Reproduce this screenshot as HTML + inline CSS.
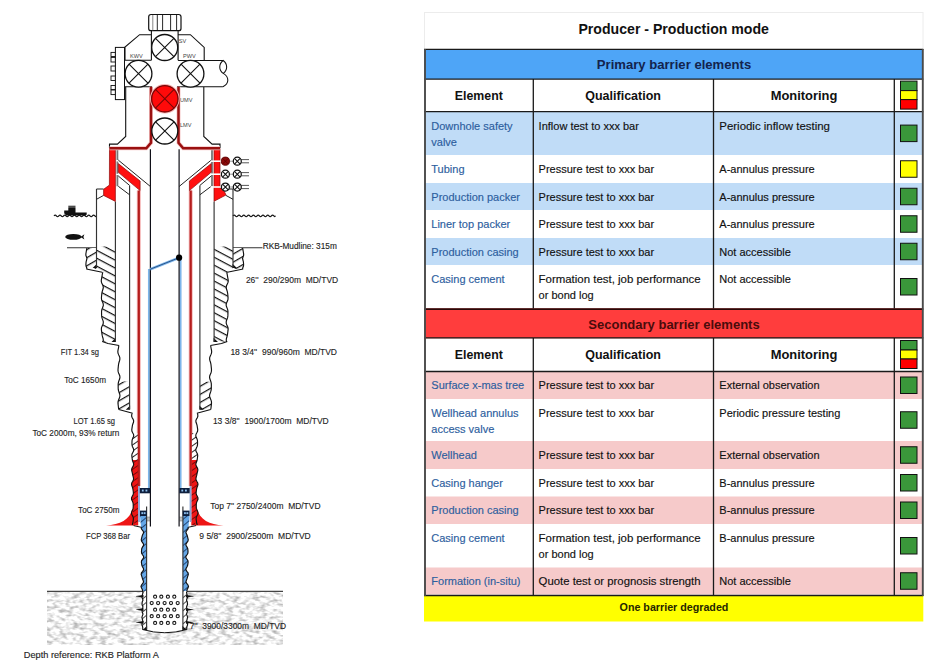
<!DOCTYPE html>
<html><head><meta charset="utf-8"><style>
html,body{margin:0;padding:0;background:#fff;width:944px;height:662px;overflow:hidden}
svg{position:absolute;left:0;top:0;font-family:"Liberation Sans", sans-serif}
</style></head><body>
<svg width="944" height="662" viewBox="0 0 944 662">
<rect x="424.5" y="12.5" width="498.5" height="37" fill="#fff" stroke="#ececec" stroke-width="1"/>
<text x="673.7" y="34" font-size="14" font-weight="700" fill="#111" text-anchor="middle" textLength="190.5" lengthAdjust="spacingAndGlyphs">Producer - Production mode</text>
<rect x="424.5" y="49.3" width="498.29999999999995" height="29.8" fill="#4ea5f7"/>
<text x="674" y="69" font-size="13" font-weight="700" fill="#13234d" text-anchor="middle" textLength="154.4" lengthAdjust="spacingAndGlyphs">Primary barrier elements</text>
<rect x="424.5" y="79.1" width="498.29999999999995" height="32.60000000000001" fill="#fff"/>
<text x="478.8" y="99.89999999999999" font-size="12.6" font-weight="700" fill="#111" text-anchor="middle" textLength="48" lengthAdjust="spacingAndGlyphs">Element</text>
<text x="623.1" y="99.89999999999999" font-size="12.6" font-weight="700" fill="#111" text-anchor="middle" textLength="75.7" lengthAdjust="spacingAndGlyphs">Qualification</text>
<text x="804.0" y="99.89999999999999" font-size="12.6" font-weight="700" fill="#111" text-anchor="middle" textLength="66.7" lengthAdjust="spacingAndGlyphs">Monitoring</text>
<rect x="900.5" y="81.1" width="16.5" height="9.5" fill="#3a973a" stroke="#111" stroke-width="1"/>
<rect x="900.5" y="90.6" width="16.5" height="9" fill="#ffff00" stroke="#111" stroke-width="1"/>
<rect x="900.5" y="99.6" width="16.5" height="9.5" fill="#ff0000" stroke="#111" stroke-width="1"/>
<rect x="424.5" y="111.7" width="498.29999999999995" height="43.3" fill="#c0dcf7"/>
<rect x="424.5" y="155.0" width="498.29999999999995" height="28" fill="#ffffff"/>
<rect x="424.5" y="183.0" width="498.29999999999995" height="27" fill="#c0dcf7"/>
<rect x="424.5" y="210.0" width="498.29999999999995" height="28" fill="#ffffff"/>
<rect x="424.5" y="238.0" width="498.29999999999995" height="27" fill="#c0dcf7"/>
<rect x="424.5" y="265.0" width="498.29999999999995" height="43.5" fill="#ffffff"/>
<text x="431.3" y="130.1" font-size="11" font-weight="400" fill="#2d5e9e" text-anchor="start" stroke="#2d5e9e" stroke-width="0.15">Downhole safety</text>
<text x="431.3" y="146.4" font-size="11" font-weight="400" fill="#2d5e9e" text-anchor="start" stroke="#2d5e9e" stroke-width="0.15">valve</text>
<text x="538.6" y="130.1" font-size="11" font-weight="400" fill="#111" text-anchor="start" stroke="#111" stroke-width="0.15">Inflow test to xxx bar</text>
<text x="719.3" y="130.1" font-size="11" font-weight="400" fill="#111" text-anchor="start" stroke="#111" stroke-width="0.15" textLength="110.6" lengthAdjust="spacingAndGlyphs">Periodic inflow testing</text>
<rect x="900.5" y="125.1" width="16.5" height="16.5" fill="#3a973a" stroke="#111" stroke-width="1"/>
<text x="431.3" y="172.6" font-size="11" font-weight="400" fill="#2d5e9e" text-anchor="start" stroke="#2d5e9e" stroke-width="0.15">Tubing</text>
<text x="538.6" y="172.6" font-size="11" font-weight="400" fill="#111" text-anchor="start" stroke="#111" stroke-width="0.15">Pressure test to xxx bar</text>
<text x="719.3" y="172.6" font-size="11" font-weight="400" fill="#111" text-anchor="start" stroke="#111" stroke-width="0.15">A-annulus pressure</text>
<rect x="900.5" y="160.75" width="16.5" height="16.5" fill="#ffff00" stroke="#111" stroke-width="1"/>
<text x="431.3" y="200.6" font-size="11" font-weight="400" fill="#2d5e9e" text-anchor="start" stroke="#2d5e9e" stroke-width="0.15">Production packer</text>
<text x="538.6" y="200.6" font-size="11" font-weight="400" fill="#111" text-anchor="start" stroke="#111" stroke-width="0.15">Pressure test to xxx bar</text>
<text x="719.3" y="200.6" font-size="11" font-weight="400" fill="#111" text-anchor="start" stroke="#111" stroke-width="0.15">A-annulus pressure</text>
<rect x="900.5" y="188.25" width="16.5" height="16.5" fill="#3a973a" stroke="#111" stroke-width="1"/>
<text x="431.3" y="227.6" font-size="11" font-weight="400" fill="#2d5e9e" text-anchor="start" stroke="#2d5e9e" stroke-width="0.15">Liner top packer</text>
<text x="538.6" y="227.6" font-size="11" font-weight="400" fill="#111" text-anchor="start" stroke="#111" stroke-width="0.15">Pressure test to xxx bar</text>
<text x="719.3" y="227.6" font-size="11" font-weight="400" fill="#111" text-anchor="start" stroke="#111" stroke-width="0.15">A-annulus pressure</text>
<rect x="900.5" y="215.75" width="16.5" height="16.5" fill="#3a973a" stroke="#111" stroke-width="1"/>
<text x="431.3" y="255.6" font-size="11" font-weight="400" fill="#2d5e9e" text-anchor="start" stroke="#2d5e9e" stroke-width="0.15">Production casing</text>
<text x="538.6" y="255.6" font-size="11" font-weight="400" fill="#111" text-anchor="start" stroke="#111" stroke-width="0.15">Pressure test to xxx bar</text>
<text x="719.3" y="255.6" font-size="11" font-weight="400" fill="#111" text-anchor="start" stroke="#111" stroke-width="0.15">Not accessible</text>
<rect x="900.5" y="243.25" width="16.5" height="16.5" fill="#3a973a" stroke="#111" stroke-width="1"/>
<text x="431.3" y="282.6" font-size="11" font-weight="400" fill="#2d5e9e" text-anchor="start" stroke="#2d5e9e" stroke-width="0.15">Casing cement</text>
<text x="538.6" y="282.6" font-size="11" font-weight="400" fill="#111" text-anchor="start" stroke="#111" stroke-width="0.15" textLength="162" lengthAdjust="spacingAndGlyphs">Formation test, job performance</text>
<text x="538.6" y="298.9" font-size="11" font-weight="400" fill="#111" text-anchor="start" stroke="#111" stroke-width="0.15">or bond log</text>
<text x="719.3" y="282.6" font-size="11" font-weight="400" fill="#111" text-anchor="start" stroke="#111" stroke-width="0.15">Not accessible</text>
<rect x="900.5" y="278.5" width="16.5" height="16.5" fill="#3a973a" stroke="#111" stroke-width="1"/>
<rect x="424.5" y="308.5" width="498.29999999999995" height="30.0" fill="#ff3d3d"/>
<text x="674" y="328.5" font-size="13" font-weight="700" fill="#4a0c0c" text-anchor="middle" textLength="171.3" lengthAdjust="spacingAndGlyphs">Secondary barrier elements</text>
<rect x="424.5" y="338.5" width="498.29999999999995" height="33.0" fill="#fff"/>
<text x="478.8" y="359.3" font-size="12.6" font-weight="700" fill="#111" text-anchor="middle" textLength="48" lengthAdjust="spacingAndGlyphs">Element</text>
<text x="623.1" y="359.3" font-size="12.6" font-weight="700" fill="#111" text-anchor="middle" textLength="75.7" lengthAdjust="spacingAndGlyphs">Qualification</text>
<text x="804.0" y="359.3" font-size="12.6" font-weight="700" fill="#111" text-anchor="middle" textLength="66.7" lengthAdjust="spacingAndGlyphs">Monitoring</text>
<rect x="900.5" y="340.5" width="16.5" height="9.5" fill="#3a973a" stroke="#111" stroke-width="1"/>
<rect x="900.5" y="350.0" width="16.5" height="9" fill="#ffff00" stroke="#111" stroke-width="1"/>
<rect x="900.5" y="359.0" width="16.5" height="9.5" fill="#ff0000" stroke="#111" stroke-width="1"/>
<rect x="424.5" y="371.5" width="498.29999999999995" height="27.5" fill="#f6caca"/>
<rect x="424.5" y="399.0" width="498.29999999999995" height="42" fill="#ffffff"/>
<rect x="424.5" y="441.0" width="498.29999999999995" height="28" fill="#f6caca"/>
<rect x="424.5" y="469.0" width="498.29999999999995" height="27.5" fill="#ffffff"/>
<rect x="424.5" y="496.5" width="498.29999999999995" height="27.5" fill="#f6caca"/>
<rect x="424.5" y="524.0" width="498.29999999999995" height="43.5" fill="#ffffff"/>
<rect x="424.5" y="567.5" width="498.29999999999995" height="27" fill="#f6caca"/>
<text x="431.3" y="389.1" font-size="11" font-weight="400" fill="#2d5e9e" text-anchor="start" stroke="#2d5e9e" stroke-width="0.15">Surface x-mas tree</text>
<text x="538.6" y="389.1" font-size="11" font-weight="400" fill="#111" text-anchor="start" stroke="#111" stroke-width="0.15">Pressure test to xxx bar</text>
<text x="719.3" y="389.1" font-size="11" font-weight="400" fill="#111" text-anchor="start" stroke="#111" stroke-width="0.15">External observation</text>
<rect x="900.5" y="377.0" width="16.5" height="16.5" fill="#3a973a" stroke="#111" stroke-width="1"/>
<text x="431.3" y="416.6" font-size="11" font-weight="400" fill="#2d5e9e" text-anchor="start" stroke="#2d5e9e" stroke-width="0.15">Wellhead annulus</text>
<text x="431.3" y="432.9" font-size="11" font-weight="400" fill="#2d5e9e" text-anchor="start" stroke="#2d5e9e" stroke-width="0.15">access valve</text>
<text x="538.6" y="416.6" font-size="11" font-weight="400" fill="#111" text-anchor="start" stroke="#111" stroke-width="0.15">Pressure test to xxx bar</text>
<text x="719.3" y="416.6" font-size="11" font-weight="400" fill="#111" text-anchor="start" stroke="#111" stroke-width="0.15">Periodic pressure testing</text>
<rect x="900.5" y="411.75" width="16.5" height="16.5" fill="#3a973a" stroke="#111" stroke-width="1"/>
<text x="431.3" y="458.6" font-size="11" font-weight="400" fill="#2d5e9e" text-anchor="start" stroke="#2d5e9e" stroke-width="0.15">Wellhead</text>
<text x="538.6" y="458.6" font-size="11" font-weight="400" fill="#111" text-anchor="start" stroke="#111" stroke-width="0.15">Pressure test to xxx bar</text>
<text x="719.3" y="458.6" font-size="11" font-weight="400" fill="#111" text-anchor="start" stroke="#111" stroke-width="0.15">External observation</text>
<rect x="900.5" y="446.75" width="16.5" height="16.5" fill="#3a973a" stroke="#111" stroke-width="1"/>
<text x="431.3" y="486.6" font-size="11" font-weight="400" fill="#2d5e9e" text-anchor="start" stroke="#2d5e9e" stroke-width="0.15">Casing hanger</text>
<text x="538.6" y="486.6" font-size="11" font-weight="400" fill="#111" text-anchor="start" stroke="#111" stroke-width="0.15">Pressure test to xxx bar</text>
<text x="719.3" y="486.6" font-size="11" font-weight="400" fill="#111" text-anchor="start" stroke="#111" stroke-width="0.15">B-annulus pressure</text>
<rect x="900.5" y="474.5" width="16.5" height="16.5" fill="#3a973a" stroke="#111" stroke-width="1"/>
<text x="431.3" y="514.1" font-size="11" font-weight="400" fill="#2d5e9e" text-anchor="start" stroke="#2d5e9e" stroke-width="0.15">Production casing</text>
<text x="538.6" y="514.1" font-size="11" font-weight="400" fill="#111" text-anchor="start" stroke="#111" stroke-width="0.15">Pressure test to xxx bar</text>
<text x="719.3" y="514.1" font-size="11" font-weight="400" fill="#111" text-anchor="start" stroke="#111" stroke-width="0.15">B-annulus pressure</text>
<rect x="900.5" y="502.0" width="16.5" height="16.5" fill="#3a973a" stroke="#111" stroke-width="1"/>
<text x="431.3" y="541.6" font-size="11" font-weight="400" fill="#2d5e9e" text-anchor="start" stroke="#2d5e9e" stroke-width="0.15">Casing cement</text>
<text x="538.6" y="541.6" font-size="11" font-weight="400" fill="#111" text-anchor="start" stroke="#111" stroke-width="0.15" textLength="162" lengthAdjust="spacingAndGlyphs">Formation test, job performance</text>
<text x="538.6" y="557.9" font-size="11" font-weight="400" fill="#111" text-anchor="start" stroke="#111" stroke-width="0.15">or bond log</text>
<text x="719.3" y="541.6" font-size="11" font-weight="400" fill="#111" text-anchor="start" stroke="#111" stroke-width="0.15">B-annulus pressure</text>
<rect x="900.5" y="537.5" width="16.5" height="16.5" fill="#3a973a" stroke="#111" stroke-width="1"/>
<text x="431.3" y="585.1" font-size="11" font-weight="400" fill="#2d5e9e" text-anchor="start" stroke="#2d5e9e" stroke-width="0.15">Formation (in-situ)</text>
<text x="538.6" y="585.1" font-size="11" font-weight="400" fill="#111" text-anchor="start" stroke="#111" stroke-width="0.15" textLength="162" lengthAdjust="spacingAndGlyphs">Quote test or prognosis strength</text>
<text x="719.3" y="585.1" font-size="11" font-weight="400" fill="#111" text-anchor="start" stroke="#111" stroke-width="0.15">Not accessible</text>
<rect x="900.5" y="572.75" width="16.5" height="16.5" fill="#3a973a" stroke="#111" stroke-width="1"/>
<rect x="424.0" y="595.0" width="499.29999999999995" height="26.5" fill="#ffff00"/>
<text x="674" y="610.5" font-size="10.7" font-weight="700" fill="#262600" text-anchor="middle" textLength="108.8" lengthAdjust="spacingAndGlyphs">One barrier degraded</text>
<path d="M424.0,49.3H923.3M424.0,79.1H923.3M424.0,111.7H923.3M424.0,337.8H923.3M424.0,371.5H923.3M424.0,595.5H923.3M533.3,79.1V308.5M533.3,338V595.5M713.5,79.1V308.5M713.5,338V595.5M894.3,79.1V308.5M894.3,338V595.5" stroke="#1a1a1a" stroke-width="1.3" fill="none"/>
<path d="M424.0,309.2H923.3" stroke="#2a0808" stroke-width="1.8" fill="none"/>
<path d="M425,49V596M922.8,49V596" stroke="#4a4a4a" stroke-width="1.9" fill="none"/>
<defs>
<pattern id="hA" patternUnits="userSpaceOnUse" width="7" height="7" patternTransform="rotate(28)"><rect width="7" height="7" fill="#fff"/><line x1="0" y1="0.6" x2="7" y2="0.6" stroke="#111" stroke-width="1.25"/></pattern>
<pattern id="hB" patternUnits="userSpaceOnUse" width="7" height="7" patternTransform="rotate(-30)"><rect width="7" height="7" fill="#fff"/><line x1="0" y1="0.6" x2="7" y2="0.6" stroke="#111" stroke-width="1.25"/></pattern>
<pattern id="hR" patternUnits="userSpaceOnUse" width="5" height="5" patternTransform="rotate(-35)"><rect width="5" height="5" fill="#ee1515"/><line x1="0" y1="0.5" x2="5" y2="0.5" stroke="#7a0a0a" stroke-width="1"/></pattern>
<pattern id="hRw" patternUnits="userSpaceOnUse" width="5" height="5" patternTransform="rotate(-35)"><rect width="5" height="5" fill="#fff"/><line x1="0" y1="0.5" x2="5" y2="0.5" stroke="#111" stroke-width="0.9"/></pattern>
<pattern id="hBl" patternUnits="userSpaceOnUse" width="5" height="5" patternTransform="rotate(-40)"><rect width="5" height="5" fill="#64a6e6"/><line x1="0" y1="0.5" x2="5" y2="0.5" stroke="#1b3a66" stroke-width="0.9"/></pattern>
<pattern id="hW" patternUnits="userSpaceOnUse" width="5" height="5" patternTransform="rotate(-40)"><rect width="5" height="5" fill="#fff"/><line x1="0" y1="0.5" x2="5" y2="0.5" stroke="#222" stroke-width="0.8"/></pattern>
<filter id="mottle" x="0" y="0" width="100%" height="100%" color-interpolation-filters="sRGB">
<feTurbulence type="fractalNoise" baseFrequency="0.15 0.3" numOctaves="2" seed="7" result="n"/>
<feColorMatrix type="matrix" in="n" values="-0.75 0 0 0 1.31  -0.75 0 0 0 1.31  -0.75 0 0 0 1.31  0 0 0 0 1"/>
</filter>
</defs>
<rect x="47" y="591" width="236" height="54" filter="url(#mottle)"/>
<path d="M47,591.3H283" stroke="#444" stroke-width="1.2"/>
<path d="M54,215.8Q55.2,214.20000000000002 56.4,215.8Q57.6,217.4 58.8,215.8Q60.0,214.20000000000002 61.2,215.8Q62.4,217.4 63.6,215.8Q64.8,214.20000000000002 66.0,215.8Q67.2,217.4 68.4,215.8Q69.6,214.20000000000002 70.8,215.8Q72.0,217.4 73.2,215.8Q74.4,214.20000000000002 75.6,215.8Q76.8,217.4 78.0,215.8Q79.2,214.20000000000002 80.4,215.8Q81.6,217.4 82.8,215.8Q84.0,214.20000000000002 85.2,215.8Q86.4,217.4 87.6,215.8Q88.8,214.20000000000002 90.0,215.8Q91.2,217.4 92.4,215.8Q93.6,214.20000000000002 94.8,215.8Q95.65,217.4 96.5,215.8M233,215.8Q234.2,214.20000000000002 235.4,215.8Q236.6,217.4 237.8,215.8Q239.0,214.20000000000002 240.2,215.8Q241.4,217.4 242.6,215.8Q243.8,214.20000000000002 245.0,215.8Q246.2,217.4 247.4,215.8Q248.6,214.20000000000002 249.8,215.8Q251.0,217.4 252.2,215.8Q253.4,214.20000000000002 254.6,215.8Q255.8,217.4 257.0,215.8Q258.2,214.20000000000002 259.4,215.8Q260.6,217.4 261.8,215.8Q263.0,214.20000000000002 264.2,215.8Q265.4,217.4 266.6,215.8Q267.8,214.20000000000002 269.0,215.8Q270.2,217.4 271.4,215.8Q272.6,214.20000000000002 273.8,215.8Q274.65,217.4 275.5,215.8" fill="none" stroke="#1a1a1a" stroke-width="1.25"/>
<path d="M64.2,210.4 H68.3 V207.2 H75.5 V212.6 H86.7 V214.6 L85.8,215.4 H66.2 L64.2,213.2 Z M68.3,205.8 H75.5 V206.8 H68.3 Z" fill="#111"/>
<ellipse cx="73.4" cy="236.9" rx="8.2" ry="2.9" fill="#111"/><path d="M80.5,236.9 L84.4,234.2 L83.4,236.9 L84.4,239.6 Z" fill="#111"/>
<path d="M67,247.7H96.5M233,247.7H262.5" stroke="#333" stroke-width="1.1"/>
<path d="M138.8,190.6V486M190.7,190.6V486" stroke="#f5b5b5" stroke-width="4" fill="none"/>
<path d="M86.86,248.0L86.68,249.5L86.33,251.0L86.11,252.5L85.85,254.0L85.88,255.5L86.5,257.0L86.93,258.5L86.61,260.0L86.16,261.5L86.0,263.0L85.9,264.5L86.03,266.0L86.61,267.5L86.95,269.0L96.5,269L96.5,248Z" fill="url(#hB)" />
<path d="M96.5,246.5L115.4,246.5L115.4,341.7L102.99,341.5L103.27,339.99L103.07,338.49L102.61,336.98L102.2,335.47L101.94,333.97L101.76,332.46L101.54,330.95L101.36,329.45L101.44,327.94L101.93,326.43L102.65,324.93L103.23,323.42L103.32,321.92L102.92,320.41L102.32,318.9L101.85,317.4L101.64,315.89L101.59,314.38L101.55,312.88L101.55,311.37L101.76,309.86L102.29,308.36L102.94,306.85L103.34,305.34L103.23,303.84L102.65,302.33L101.96,300.82L101.52,299.32L101.43,297.81L101.55,296.3L101.69,294.8L101.84,293.29L102.12,291.78L102.6,290.28L103.11,288.77L103.32,287.27L103.01,285.76L102.31,284.25L101.61,282.75L101.26,281.24L101.35,279.73L101.66,278.23L101.95,276.72L102.18,275.21L102.44,273.71L102.81,272.2L96.5,269Z" fill="url(#hA)" />
<path d="M118.49,382.07L118.21,383.6L118.16,385.12L118.17,386.64L118.18,388.17L118.29,389.69L118.63,391.21L119.19,392.74L119.74,394.26L119.96,395.79L119.69,397.31L119.05,398.83L118.4,400.36L118.02,401.88L118.0,403.4L118.16,404.93L118.34,406.45L118.51,407.98L118.75,409.5L129.6,409.5L129.6,381Z" fill="url(#hB)" />
<path d="M133.51,434.35L133.74,435.86L133.23,437.37L132.49,438.88L132.07,440.39L131.98,441.91L131.96,443.42L132.0,444.93L132.39,446.44L133.14,447.95L133.72,449.46L133.58,450.97L132.81,452.48L132.05,453.99L131.8,455.5L131.95,457.01L132.14,458.52L132.36,460.04L137.9,461L137.9,433Z" fill="url(#hRw)" />
<path d="M132.36,460.04L132.82,461.55L133.44,463.06L133.7,464.57L133.22,466.08L132.32,467.59L131.69,469.1L131.72,470.61L132.12,472.12L132.47,473.63L132.75,475.14L133.15,476.65L133.54,478.16L133.46,479.68L132.75,481.19L131.86,482.7L131.51,484.21L131.86,485.72L132.46,487.23L132.86,488.74L133.07,490.25L133.29,491.76L133.41,493.27L133.07,494.78L132.25,496.29L131.54,497.81L131.54,499.32L132.19,500.83L132.88,502.34L133.2,503.85L133.23,505.36L133.23,506.87L133.12,508.38L132.61,509.89L131.85,511.4L131.44,512.91L131.8,514.42L132.64,515.94L133.29,517.45L133.39,518.96L133.19,520.47L132.99,521.98L132.72,523.49L132.2,525.0L138.2,525.5L138.2,460Z" fill="url(#hR)" />
<path d="M140,516L141.07,527.5L141.49,529.01L142.76,530.52L143.59,532.04L143.26,533.55L142.47,535.06L141.99,536.57L141.64,538.08L141.28,539.6L141.5,541.11L142.61,542.62L143.62,544.13L143.44,545.64L142.45,547.15L141.74,548.67L141.56,550.18L141.48,551.69L141.64,553.2L142.49,554.71L143.53,556.23L143.58,557.74L142.53,559.25L141.55,560.76L141.39,562.27L141.62,563.79L141.86,565.3L142.45,566.81L143.36,568.32L143.61,569.83L142.67,571.35L141.47,572.86L141.17,574.37L141.64,575.88L142.11,577.39L142.53,578.9L143.18,580.42L143.53,581.93L142.81,583.44L141.52,584.95L140.98,586.46L141.55,587.98L142.32,589.49L142.72,591.0L146.6,591L146.6,516Z" fill="url(#hBl)" />
<path d="M142.18,591.0L142.98,592.54L142.56,594.08L142.19,595.62L141.91,597.16L142.56,598.7L142.98,600.24L142.28,601.78L142.06,603.32L142.08,604.86L142.87,606.4L142.78,607.94L142.02,609.48L142.08,611.02L142.36,612.56L143.01,614.1L142.43,615.64L141.9,617.18L142.25,618.72L142.63,620.26L142.94,621.8L142.07,623.34L141.96,624.88L142.49,626.42L142.79,627.96L142.69,629.5L146.6,629.8L146.6,591Z" fill="url(#hW)" />
<path d="M242.64,248.0L242.82,249.5L243.17,251.0L243.39,252.5L243.65,254.0L243.62,255.5L243.0,257.0L242.57,258.5L242.89,260.0L243.34,261.5L243.5,263.0L243.6,264.5L243.47,266.0L242.89,267.5L242.55,269.0L233.0,269L233.0,248Z" fill="url(#hB)" />
<path d="M233.0,246.5L214.1,246.5L214.1,341.7L226.51,341.5L226.23,339.99L226.43,338.49L226.89,336.98L227.3,335.47L227.56,333.97L227.74,332.46L227.96,330.95L228.14,329.45L228.06,327.94L227.57,326.43L226.85,324.93L226.27,323.42L226.18,321.92L226.58,320.41L227.18,318.9L227.65,317.4L227.86,315.89L227.91,314.38L227.95,312.88L227.95,311.37L227.74,309.86L227.21,308.36L226.56,306.85L226.16,305.34L226.27,303.84L226.85,302.33L227.54,300.82L227.98,299.32L228.07,297.81L227.95,296.3L227.81,294.8L227.66,293.29L227.38,291.78L226.9,290.28L226.39,288.77L226.18,287.27L226.49,285.76L227.19,284.25L227.89,282.75L228.24,281.24L228.15,279.73L227.84,278.23L227.55,276.72L227.32,275.21L227.06,273.71L226.69,272.2L233.0,269Z" fill="url(#hA)" />
<path d="M211.01,382.07L211.29,383.6L211.34,385.12L211.33,386.64L211.32,388.17L211.21,389.69L210.87,391.21L210.31,392.74L209.76,394.26L209.54,395.79L209.81,397.31L210.45,398.83L211.1,400.36L211.48,401.88L211.5,403.4L211.34,404.93L211.16,406.45L210.99,407.98L210.75,409.5L199.9,409.5L199.9,381Z" fill="url(#hB)" />
<path d="M195.99,434.35L195.76,435.86L196.27,437.37L197.01,438.88L197.43,440.39L197.52,441.91L197.54,443.42L197.5,444.93L197.11,446.44L196.36,447.95L195.78,449.46L195.92,450.97L196.69,452.48L197.45,453.99L197.7,455.5L197.55,457.01L197.36,458.52L197.14,460.04L191.6,461L191.6,433Z" fill="url(#hRw)" />
<path d="M197.14,460.04L196.68,461.55L196.06,463.06L195.8,464.57L196.28,466.08L197.18,467.59L197.81,469.1L197.78,470.61L197.38,472.12L197.03,473.63L196.75,475.14L196.35,476.65L195.96,478.16L196.04,479.68L196.75,481.19L197.64,482.7L197.99,484.21L197.64,485.72L197.04,487.23L196.64,488.74L196.43,490.25L196.21,491.76L196.09,493.27L196.43,494.78L197.25,496.29L197.96,497.81L197.96,499.32L197.31,500.83L196.62,502.34L196.3,503.85L196.27,505.36L196.27,506.87L196.38,508.38L196.89,509.89L197.65,511.4L198.06,512.91L197.7,514.42L196.86,515.94L196.21,517.45L196.11,518.96L196.31,520.47L196.51,521.98L196.78,523.49L197.3,525.0L191.3,525.5L191.3,460Z" fill="url(#hR)" />
<path d="M189.5,516L188.43,527.5L188.01,529.01L186.74,530.52L185.91,532.04L186.24,533.55L187.03,535.06L187.51,536.57L187.86,538.08L188.22,539.6L188.0,541.11L186.89,542.62L185.88,544.13L186.06,545.64L187.05,547.15L187.76,548.67L187.94,550.18L188.02,551.69L187.86,553.2L187.01,554.71L185.97,556.23L185.92,557.74L186.97,559.25L187.95,560.76L188.11,562.27L187.88,563.79L187.64,565.3L187.05,566.81L186.14,568.32L185.89,569.83L186.83,571.35L188.03,572.86L188.33,574.37L187.86,575.88L187.39,577.39L186.97,578.9L186.32,580.42L185.97,581.93L186.69,583.44L187.98,584.95L188.52,586.46L187.95,587.98L187.18,589.49L186.78,591.0L182.9,591L182.9,516Z" fill="url(#hBl)" />
<path d="M187.32,591.0L186.52,592.54L186.94,594.08L187.31,595.62L187.59,597.16L186.94,598.7L186.52,600.24L187.22,601.78L187.44,603.32L187.42,604.86L186.63,606.4L186.72,607.94L187.48,609.48L187.42,611.02L187.14,612.56L186.49,614.1L187.07,615.64L187.6,617.18L187.25,618.72L186.87,620.26L186.56,621.8L187.43,623.34L187.54,624.88L187.01,626.42L186.71,627.96L186.81,629.5L182.9,629.8L182.9,591Z" fill="url(#hW)" />
<path d="M106,525.6 C120,524.5 130,520 132.6,508 L134.5,525.6 Z" fill="#ee1515"/>
<path d="M223.5,525.6 C209.5,524.5 199.5,520 196.9,508 L195.0,525.6 Z" fill="#ee1515"/>
<path d="M138.8,190.6V486M190.7,190.6V486" stroke="#b41c1c" stroke-width="2.2" fill="none"/>
<path d="M139,486V522M190.5,486V522" stroke="#8ea6d6" stroke-width="1.8" fill="none"/>
<path d="M86.86,248.0L86.68,249.5L86.33,251.0L86.11,252.5L85.85,254.0L85.88,255.5L86.5,257.0L86.93,258.5L86.61,260.0L86.16,261.5L86.0,263.0L85.9,264.5L86.03,266.0L86.61,267.5L86.95,269.0M86.3,269L102.2,272.2M102.81,272.2L102.44,273.71L102.18,275.21L101.95,276.72L101.66,278.23L101.35,279.73L101.26,281.24L101.61,282.75L102.31,284.25L103.01,285.76L103.32,287.27L103.11,288.77L102.6,290.28L102.12,291.78L101.84,293.29L101.69,294.8L101.55,296.3L101.43,297.81L101.52,299.32L101.96,300.82L102.65,302.33L103.23,303.84L103.34,305.34L102.94,306.85L102.29,308.36L101.76,309.86L101.55,311.37L101.55,312.88L101.59,314.38L101.64,315.89L101.85,317.4L102.32,318.9L102.92,320.41L103.32,321.92L103.23,323.42L102.65,324.93L101.93,326.43L101.44,327.94L101.36,329.45L101.54,330.95L101.76,332.46L101.94,333.97L102.2,335.47L102.61,336.98L103.07,338.49L103.27,339.99L102.99,341.5M102.2,341.5L108,343.5L119,345.5M118.85,345.5L118.64,347.02L118.35,348.55L118.01,350.07L117.83,351.6L118.0,353.12L118.58,354.64L119.3,356.17L119.81,357.69L119.87,359.21L119.52,360.74L119.03,362.26L118.64,363.79L118.43,365.31L118.28,366.83L118.12,368.36L118.0,369.88L118.11,371.4L118.57,372.93L119.25,374.45L119.81,375.98L119.95,377.5L119.61,379.02L119.02,380.55L118.49,382.07L118.21,383.6L118.16,385.12L118.17,386.64L118.18,388.17L118.29,389.69L118.63,391.21L119.19,392.74L119.74,394.26L119.96,395.79L119.69,397.31L119.05,398.83L118.4,400.36L118.02,401.88L118.0,403.4L118.16,404.93L118.34,406.45L118.51,407.98L118.75,409.5M118.8,409.5L132.6,413.2M132.19,413.2L131.74,414.71L131.64,416.22L132.2,417.73L133.12,419.24L133.67,420.75L133.49,422.26L132.91,423.78L132.44,425.29L132.2,426.8L131.97,428.31L131.77,429.82L131.96,431.33L132.69,432.84L133.51,434.35L133.74,435.86L133.23,437.37L132.49,438.88L132.07,440.39L131.98,441.91L131.96,443.42L132.0,444.93L132.39,446.44L133.14,447.95L133.72,449.46L133.58,450.97L132.81,452.48L132.05,453.99L131.8,455.5L131.95,457.01L132.14,458.52L132.36,460.04L132.82,461.55L133.44,463.06L133.7,464.57L133.22,466.08L132.32,467.59L131.69,469.1L131.72,470.61L132.12,472.12L132.47,473.63L132.75,475.14L133.15,476.65L133.54,478.16L133.46,479.68L132.75,481.19L131.86,482.7L131.51,484.21L131.86,485.72L132.46,487.23L132.86,488.74L133.07,490.25L133.29,491.76L133.41,493.27L133.07,494.78L132.25,496.29L131.54,497.81L131.54,499.32L132.19,500.83L132.88,502.34L133.2,503.85L133.23,505.36L133.23,506.87L133.12,508.38L132.61,509.89L131.85,511.4L131.44,512.91L131.8,514.42L132.64,515.94L133.29,517.45L133.39,518.96L133.19,520.47L132.99,521.98L132.72,523.49L132.2,525.0M141.07,527.5L141.49,529.01L142.76,530.52L143.59,532.04L143.26,533.55L142.47,535.06L141.99,536.57L141.64,538.08L141.28,539.6L141.5,541.11L142.61,542.62L143.62,544.13L143.44,545.64L142.45,547.15L141.74,548.67L141.56,550.18L141.48,551.69L141.64,553.2L142.49,554.71L143.53,556.23L143.58,557.74L142.53,559.25L141.55,560.76L141.39,562.27L141.62,563.79L141.86,565.3L142.45,566.81L143.36,568.32L143.61,569.83L142.67,571.35L141.47,572.86L141.17,574.37L141.64,575.88L142.11,577.39L142.53,578.9L143.18,580.42L143.53,581.93L142.81,583.44L141.52,584.95L140.98,586.46L141.55,587.98L142.32,589.49L142.72,591.0M142.18,591.0L142.98,592.54L142.56,594.08L142.19,595.62L141.91,597.16L142.56,598.7L142.98,600.24L142.28,601.78L142.06,603.32L142.08,604.86L142.87,606.4L142.78,607.94L142.02,609.48L142.08,611.02L142.36,612.56L143.01,614.1L142.43,615.64L141.9,617.18L142.25,618.72L142.63,620.26L142.94,621.8L142.07,623.34L141.96,624.88L142.49,626.42L142.79,627.96L142.69,629.5" fill="none" stroke="#111" stroke-width="1.15"/>
<path d="M242.64,248.0L242.82,249.5L243.17,251.0L243.39,252.5L243.65,254.0L243.62,255.5L243.0,257.0L242.57,258.5L242.89,260.0L243.34,261.5L243.5,263.0L243.6,264.5L243.47,266.0L242.89,267.5L242.55,269.0M243.2,269L227.3,272.2M226.69,272.2L227.06,273.71L227.32,275.21L227.55,276.72L227.84,278.23L228.15,279.73L228.24,281.24L227.89,282.75L227.19,284.25L226.49,285.76L226.18,287.27L226.39,288.77L226.9,290.28L227.38,291.78L227.66,293.29L227.81,294.8L227.95,296.3L228.07,297.81L227.98,299.32L227.54,300.82L226.85,302.33L226.27,303.84L226.16,305.34L226.56,306.85L227.21,308.36L227.74,309.86L227.95,311.37L227.95,312.88L227.91,314.38L227.86,315.89L227.65,317.4L227.18,318.9L226.58,320.41L226.18,321.92L226.27,323.42L226.85,324.93L227.57,326.43L228.06,327.94L228.14,329.45L227.96,330.95L227.74,332.46L227.56,333.97L227.3,335.47L226.89,336.98L226.43,338.49L226.23,339.99L226.51,341.5M227.3,341.5L221.5,343.5L210.5,345.5M210.65,345.5L210.86,347.02L211.15,348.55L211.49,350.07L211.67,351.6L211.5,353.12L210.92,354.64L210.2,356.17L209.69,357.69L209.63,359.21L209.98,360.74L210.47,362.26L210.86,363.79L211.07,365.31L211.22,366.83L211.38,368.36L211.5,369.88L211.39,371.4L210.93,372.93L210.25,374.45L209.69,375.98L209.55,377.5L209.89,379.02L210.48,380.55L211.01,382.07L211.29,383.6L211.34,385.12L211.33,386.64L211.32,388.17L211.21,389.69L210.87,391.21L210.31,392.74L209.76,394.26L209.54,395.79L209.81,397.31L210.45,398.83L211.1,400.36L211.48,401.88L211.5,403.4L211.34,404.93L211.16,406.45L210.99,407.98L210.75,409.5M210.7,409.5L196.9,413.2M197.31,413.2L197.76,414.71L197.86,416.22L197.3,417.73L196.38,419.24L195.83,420.75L196.01,422.26L196.59,423.78L197.06,425.29L197.3,426.8L197.53,428.31L197.73,429.82L197.54,431.33L196.81,432.84L195.99,434.35L195.76,435.86L196.27,437.37L197.01,438.88L197.43,440.39L197.52,441.91L197.54,443.42L197.5,444.93L197.11,446.44L196.36,447.95L195.78,449.46L195.92,450.97L196.69,452.48L197.45,453.99L197.7,455.5L197.55,457.01L197.36,458.52L197.14,460.04L196.68,461.55L196.06,463.06L195.8,464.57L196.28,466.08L197.18,467.59L197.81,469.1L197.78,470.61L197.38,472.12L197.03,473.63L196.75,475.14L196.35,476.65L195.96,478.16L196.04,479.68L196.75,481.19L197.64,482.7L197.99,484.21L197.64,485.72L197.04,487.23L196.64,488.74L196.43,490.25L196.21,491.76L196.09,493.27L196.43,494.78L197.25,496.29L197.96,497.81L197.96,499.32L197.31,500.83L196.62,502.34L196.3,503.85L196.27,505.36L196.27,506.87L196.38,508.38L196.89,509.89L197.65,511.4L198.06,512.91L197.7,514.42L196.86,515.94L196.21,517.45L196.11,518.96L196.31,520.47L196.51,521.98L196.78,523.49L197.3,525.0M188.43,527.5L188.01,529.01L186.74,530.52L185.91,532.04L186.24,533.55L187.03,535.06L187.51,536.57L187.86,538.08L188.22,539.6L188.0,541.11L186.89,542.62L185.88,544.13L186.06,545.64L187.05,547.15L187.76,548.67L187.94,550.18L188.02,551.69L187.86,553.2L187.01,554.71L185.97,556.23L185.92,557.74L186.97,559.25L187.95,560.76L188.11,562.27L187.88,563.79L187.64,565.3L187.05,566.81L186.14,568.32L185.89,569.83L186.83,571.35L188.03,572.86L188.33,574.37L187.86,575.88L187.39,577.39L186.97,578.9L186.32,580.42L185.97,581.93L186.69,583.44L187.98,584.95L188.52,586.46L187.95,587.98L187.18,589.49L186.78,591.0M187.32,591.0L186.52,592.54L186.94,594.08L187.31,595.62L187.59,597.16L186.94,598.7L186.52,600.24L187.22,601.78L187.44,603.32L187.42,604.86L186.63,606.4L186.72,607.94L187.48,609.48L187.42,611.02L187.14,612.56L186.49,614.1L187.07,615.64L187.6,617.18L187.25,618.72L186.87,620.26L186.56,621.8L187.43,623.34L187.54,624.88L187.01,626.42L186.71,627.96L186.81,629.5" fill="none" stroke="#111" stroke-width="1.15"/>
<path d="M146.6,590 H182.9 V629.6 Q164.75,635 146.6,629.6 Z" fill="#fff" stroke="none"/>
<path d="M142.4,629.5 Q164.75,636 187.1,629.5" fill="none" stroke="#111" stroke-width="1"/>
<g fill="none" stroke="#1a1a1a" stroke-width="1.1"><circle cx="155.1" cy="596.7" r="1.55"/><circle cx="161.3" cy="596.7" r="1.55"/><circle cx="167.9" cy="596.7" r="1.55"/><circle cx="174.3" cy="596.7" r="1.55"/><circle cx="151.7" cy="603.1" r="1.55"/><circle cx="158.1" cy="603.1" r="1.55"/><circle cx="164.6" cy="603.1" r="1.55"/><circle cx="171" cy="603.1" r="1.55"/><circle cx="177.7" cy="603.1" r="1.55"/><circle cx="155.1" cy="609.7" r="1.55"/><circle cx="161.3" cy="609.7" r="1.55"/><circle cx="167.9" cy="609.7" r="1.55"/><circle cx="174.3" cy="609.7" r="1.55"/><circle cx="151.7" cy="616.2" r="1.55"/><circle cx="158.1" cy="616.2" r="1.55"/><circle cx="164.6" cy="616.2" r="1.55"/><circle cx="171" cy="616.2" r="1.55"/><circle cx="177.7" cy="616.2" r="1.55"/><circle cx="155.1" cy="622.9" r="1.55"/><circle cx="161.3" cy="622.9" r="1.55"/><circle cx="167.9" cy="622.9" r="1.55"/><circle cx="174.3" cy="622.9" r="1.55"/></g>
<path d="M143.5,594.9000000000001L136,596.0L136,596.4000000000001L143.5,597.5ZM186.0,594.9000000000001L193.5,596.0L193.5,596.4000000000001L186.0,597.5ZM143.5,608.3000000000001L136,609.4L136,609.8000000000001L143.5,610.9ZM186.0,608.3000000000001L193.5,609.4L193.5,609.8000000000001L186.0,610.9ZM143.5,621.1L136,622.1999999999999L136,622.6L143.5,623.6999999999999ZM186.0,621.1L193.5,622.1999999999999L193.5,622.6L186.0,623.6999999999999Z" fill="#111"/>
<path d="M97.0,268.0L92.6,268.0L97.0,263.70000000000005ZM232.5,268.0L236.9,268.0L232.5,263.70000000000005ZM115.9,342.09999999999997L111.5,342.09999999999997L115.9,337.8ZM213.6,342.09999999999997L218.0,342.09999999999997L213.6,337.8ZM130.1,409.7L125.69999999999999,409.7L130.1,405.40000000000003ZM199.4,409.7L203.8,409.7L199.4,405.40000000000003ZM147.1,630.0L142.7,630.0L147.1,625.7ZM182.4,630.0L186.8,630.0L182.4,625.7Z" fill="#111"/>
<path d="M96.5,189V267.6M233.0,189V267.6M115.4,201.4V341.7M214.1,201.4V341.7M129.6,185.4V409.3M199.9,185.4V409.3M146.6,506.6V629.6M182.9,506.6V629.6" fill="none" stroke="#333" stroke-width="1.15"/>
<path d="M96.5,189H103.6M103.6,195.4L96.5,199.3M233.0,189H225.9M225.9,195.4L233.0,199.3" stroke="#222" stroke-width="1" fill="none"/>
<path d="M148.9,269V488M180.6,257.7V488" stroke="#7db5ea" stroke-width="1.9" fill="none"/>
<path d="M150.4,149.3V526.5M179.1,149.3V526.5" stroke="#101018" stroke-width="1.2" fill="none"/>
<path d="M179.1,257.7L150.3,269.2" stroke="#7db5ea" stroke-width="2.6" fill="none"/>
<path d="M179.1,257.7L150.3,269.2" stroke="#1f4a80" stroke-width="0.9" fill="none"/>
<circle cx="179.1" cy="257.7" r="3.1" fill="#000"/>
<rect x="139.8" y="488" width="10.399999999999977" height="5.300000000000011" fill="#0e1f3d"/><rect x="141.88" y="489.6" width="1.8" height="1.9" fill="#8fc0ee"/><rect x="145.52" y="489.6" width="1.8" height="1.9" fill="#8fc0ee"/><rect x="179.3" y="488" width="10.399999999999977" height="5.300000000000011" fill="#0e1f3d"/><rect x="181.38" y="489.6" width="1.8" height="1.9" fill="#8fc0ee"/><rect x="185.02" y="489.6" width="1.8" height="1.9" fill="#8fc0ee"/><rect x="140" y="510.6" width="6.800000000000011" height="5.399999999999977" fill="#0e1f3d"/><rect x="141.36" y="512.2" width="1.8" height="1.9" fill="#8fc0ee"/><rect x="143.74" y="512.2" width="1.8" height="1.9" fill="#8fc0ee"/><rect x="182.7" y="510.6" width="6.800000000000011" height="5.399999999999977" fill="#0e1f3d"/><rect x="184.06" y="512.2" width="1.8" height="1.9" fill="#8fc0ee"/><rect x="186.44" y="512.2" width="1.8" height="1.9" fill="#8fc0ee"/>
<path d="M146.8,517.2H150.4M146.8,519H150.4M146.8,520.8H150.4M182.7,517.2H179.1M182.7,519H179.1M182.7,520.8H179.1" stroke="#333" stroke-width="0.6"/>
<path d="M133.6,525.6L141.8,527.4M195.9,525.6L187.7,527.4" stroke="#111" stroke-width="1"/>
<path d="M109.5,148.3H115.4V201.4L103.6,195.4V189.3L109.4,185.1Z" fill="#ff1010" stroke="#8c0c0c" stroke-width="0.7"/>
<path d="M214,148.3H220V188.1H222.8L226,195L214,201.3Z" fill="#ff1010" stroke="#8c0c0c" stroke-width="0.7"/>
<path d="M117.4,149.3V186.3M212,149.3V186.3" stroke="#777" stroke-width="1.8"/>
<path d="M116.2,160.8H119M116.2,174.4H119" stroke="#fff" stroke-width="1.4"/>
<path d="M118.3,160.1L150.4,186.5M211.2,160.1L179.1,186.5" stroke="#222" stroke-width="1"/>
<path d="M118.3,163.6L140.1,181V190.6L118.3,172.3Z" fill="#ff1010" stroke="#8c0c0c" stroke-width="0.7"/>
<path d="M211.2,163.6L189.4,181V190.6L211.2,172.3Z" fill="#ff1010" stroke="#8c0c0c" stroke-width="0.7"/>
<path d="M118.3,176L129.6,185.4M118.3,186.3L129.6,194.8M211.2,176L199.9,185.4M211.2,186.3L199.9,194.8" stroke="#222" stroke-width="1"/>
<path d="M210.6,161.2H222" stroke="#fff" stroke-width="1.6"/><path d="M229,161.2H233.5" stroke="#999" stroke-width="1"/><path d="M241,159.6H249M241,162.79999999999998H249" stroke="#444" stroke-width="0.9"/><circle cx="225.4" cy="161.2" r="4.1" fill="#8c0a0a" stroke="#5a0000" stroke-width="0.9"/><path d="M222.6,158.39999999999998L228.20000000000002,164.0M222.6,164.0L228.20000000000002,158.39999999999998" stroke="#5a0000" stroke-width="0.8"/><circle cx="237.3" cy="161.2" r="4.0" fill="#fff" stroke="#111" stroke-width="1.25"/><path d="M234.47160000000002,158.3716L240.1284,164.02839999999998M234.47160000000002,164.02839999999998L240.1284,158.3716" stroke="#111" stroke-width="1.1"/><path d="M210.6,174.2H222" stroke="#fff" stroke-width="1.6"/><path d="M229,174.2H233.5" stroke="#999" stroke-width="1"/><path d="M241,172.6H249M241,175.79999999999998H249" stroke="#444" stroke-width="0.9"/><circle cx="225.4" cy="174.2" r="4.0" fill="#fff" stroke="#111" stroke-width="1.25"/><path d="M222.57160000000002,171.3716L228.2284,177.02839999999998M222.57160000000002,177.02839999999998L228.2284,171.3716" stroke="#111" stroke-width="1.1"/><circle cx="237.3" cy="174.2" r="4.0" fill="#fff" stroke="#111" stroke-width="1.25"/><path d="M234.47160000000002,171.3716L240.1284,177.02839999999998M234.47160000000002,177.02839999999998L240.1284,171.3716" stroke="#111" stroke-width="1.1"/><path d="M210.6,187.0H222" stroke="#fff" stroke-width="1.6"/><path d="M229,187.0H233.5" stroke="#999" stroke-width="1"/><path d="M241,185.4H249M241,188.6H249" stroke="#444" stroke-width="0.9"/><circle cx="225.4" cy="187.0" r="4.0" fill="#fff" stroke="#111" stroke-width="1.25"/><path d="M222.57160000000002,184.1716L228.2284,189.8284M222.57160000000002,189.8284L228.2284,184.1716" stroke="#111" stroke-width="1.1"/><circle cx="237.3" cy="187.0" r="4.0" fill="#fff" stroke="#111" stroke-width="1.25"/><path d="M234.47160000000002,184.1716L240.1284,189.8284M234.47160000000002,189.8284L240.1284,184.1716" stroke="#111" stroke-width="1.1"/>
<rect x="115.4" y="47.4" width="9.1" height="52.2" fill="#fff" stroke="#111" stroke-width="1"/>
<rect x="111" y="52.4" width="4.3" height="4.1" fill="#fff" stroke="#111" stroke-width="0.9"/><rect x="111" y="57.4" width="4.3" height="4.6" fill="#fff" stroke="#111" stroke-width="0.9"/><rect x="111" y="66" width="4.3" height="5" fill="#fff" stroke="#111" stroke-width="0.9"/><rect x="111" y="76" width="4.3" height="4.5" fill="#fff" stroke="#111" stroke-width="0.9"/><rect x="111" y="85.5" width="4.3" height="4.1" fill="#fff" stroke="#111" stroke-width="0.9"/><rect x="111" y="90" width="4.3" height="4.6" fill="#fff" stroke="#111" stroke-width="0.9"/>
<path d="M151.4,30.8V60.3M178.1,30.8V60.3M151.4,34.7H139.6L125,47V60.3H151.4M178.1,34.7H190.4L204.2,47.4V60.3M178.1,60.5H223.2M125,86.7H152M177,86.7H222.9M125.7,86.7V136.4L117.4,144.1H109.5V148M203.8,86.7V136.4L212.1,144.1H220V148" fill="none" stroke="#111" stroke-width="1.1"/>
<path d="M223.2,60.5C218.6,64 218.6,70 223.2,73.4C227.8,70 227.8,64 223.2,60.5ZM223.2,73.4C229.4,77 229.4,83.5 222.9,86.7" fill="none" stroke="#111" stroke-width="1.05"/>
<rect x="148.7" y="14.5" width="32.3" height="16.2" rx="2.3" fill="#fff" stroke="#111" stroke-width="1.2"/>
<path d="M152.8,15V30.3" stroke="#888" stroke-width="1"/><path d="M157.3,15V30.3M162.6,15V30.3M170.6,15V30.3M176.6,15V30.3" stroke="#111" stroke-width="0.9"/>
<path d="M151,86.7V142.8L146.3,148.3H109.5M178.5,86.7V142.8L183.2,148.3H220" fill="none" stroke="#f6c6c6" stroke-width="4"/>
<path d="M151,86.7V142.8L146.3,148.3H109.5M178.5,86.7V142.8L183.2,148.3H220" fill="none" stroke="#9a1010" stroke-width="2.5"/>
<circle cx="164.7" cy="47.5" r="13" fill="#fff" stroke="#111" stroke-width="1.3"/><path d="M155.51,38.31L173.89,56.69M155.51,56.69L173.89,38.31" stroke="#111" stroke-width="1.1"/><circle cx="138.5" cy="73.7" r="13.4" fill="#fff" stroke="#111" stroke-width="1.3"/><path d="M129.02,64.22L147.98,83.18M129.02,83.18L147.98,64.22" stroke="#111" stroke-width="1.1"/><circle cx="190.5" cy="73.7" r="13.4" fill="#fff" stroke="#111" stroke-width="1.3"/><path d="M181.02,64.22L199.98,83.18M181.02,83.18L199.98,64.22" stroke="#111" stroke-width="1.1"/><circle cx="164.8" cy="98.8" r="14.1" fill="none" stroke="#f4b4b4" stroke-width="1.4"/><circle cx="164.8" cy="98.8" r="13.2" fill="#ff0a0a" stroke="#7a0606" stroke-width="1.3"/><path d="M155.47,89.47L174.13,108.13M155.47,108.13L174.13,89.47" stroke="#7a0606" stroke-width="1.1"/><circle cx="164.8" cy="131" r="13" fill="#fff" stroke="#111" stroke-width="1.3"/><path d="M155.61,121.81L173.99,140.19M155.61,140.19L173.99,121.81" stroke="#111" stroke-width="1.1"/>
<text x="178.8" y="43" font-size="5.6" fill="#444">SV</text><text x="130" y="58.2" font-size="5.6" fill="#444">KWV</text><text x="183" y="58.2" font-size="5.6" fill="#444">PWV</text><text x="180" y="102.3" font-size="5.6" fill="#444">UMV</text><text x="180" y="126.8" font-size="5.6" fill="#444">LMV</text>
<text x="262.7" y="249" font-size="8.6" fill="#222" stroke="#222" stroke-width="0.12" style="white-space:pre" textLength="74.1" lengthAdjust="spacingAndGlyphs">RKB-Mudline: 315m</text><text x="245.9" y="283" font-size="8.6" fill="#222" stroke="#222" stroke-width="0.12" style="white-space:pre" textLength="92.3" lengthAdjust="spacingAndGlyphs">26''  290/290m  MD/TVD</text><text x="60.8" y="355.4" font-size="8.6" fill="#222" stroke="#222" stroke-width="0.12" style="white-space:pre" textLength="38.1" lengthAdjust="spacingAndGlyphs">FIT 1.34 sg</text><text x="230.4" y="355.2" font-size="8.6" fill="#222" stroke="#222" stroke-width="0.12" style="white-space:pre" textLength="106.6" lengthAdjust="spacingAndGlyphs">18 3/4''  990/960m  MD/TVD</text><text x="64.2" y="383" font-size="8.6" fill="#222" stroke="#222" stroke-width="0.12" style="white-space:pre" textLength="41.8" lengthAdjust="spacingAndGlyphs">ToC 1650m</text><text x="73.5" y="423.8" font-size="8.6" fill="#222" stroke="#222" stroke-width="0.12" style="white-space:pre" textLength="41.5" lengthAdjust="spacingAndGlyphs">LOT 1.65 sg</text><text x="212.9" y="423.9" font-size="8.6" fill="#222" stroke="#222" stroke-width="0.12" style="white-space:pre" textLength="115.8" lengthAdjust="spacingAndGlyphs">13 3/8''  1900/1700m  MD/TVD</text><text x="32.4" y="436.1" font-size="8.6" fill="#222" stroke="#222" stroke-width="0.12" style="white-space:pre" textLength="87.0" lengthAdjust="spacingAndGlyphs">ToC 2000m, 93% return</text><text x="78.1" y="512.7" font-size="8.6" fill="#222" stroke="#222" stroke-width="0.12" style="white-space:pre" textLength="41.3" lengthAdjust="spacingAndGlyphs">ToC 2750m</text><text x="210.3" y="508.6" font-size="8.6" fill="#222" stroke="#222" stroke-width="0.12" style="white-space:pre" textLength="110.2" lengthAdjust="spacingAndGlyphs">Top 7'' 2750/2400m  MD/TVD</text><text x="86" y="539.2" font-size="8.6" fill="#222" stroke="#222" stroke-width="0.12" style="white-space:pre" textLength="44" lengthAdjust="spacingAndGlyphs">FCP 368 Bar</text><text x="199.3" y="539.2" font-size="8.6" fill="#222" stroke="#222" stroke-width="0.12" style="white-space:pre" textLength="111.4" lengthAdjust="spacingAndGlyphs">9 5/8''  2900/2500m  MD/TVD</text><text x="189.7" y="629.2" font-size="8.6" fill="#222" stroke="#222" stroke-width="0.12" style="white-space:pre" textLength="96.3" lengthAdjust="spacingAndGlyphs">7''  3900/3300m  MD/TVD</text><text x="23.8" y="658.2" font-size="8.6" fill="#222" stroke="#222" stroke-width="0.12" style="white-space:pre" textLength="135.1" lengthAdjust="spacingAndGlyphs">Depth reference: RKB Platform A</text>
</svg>
</body></html>
